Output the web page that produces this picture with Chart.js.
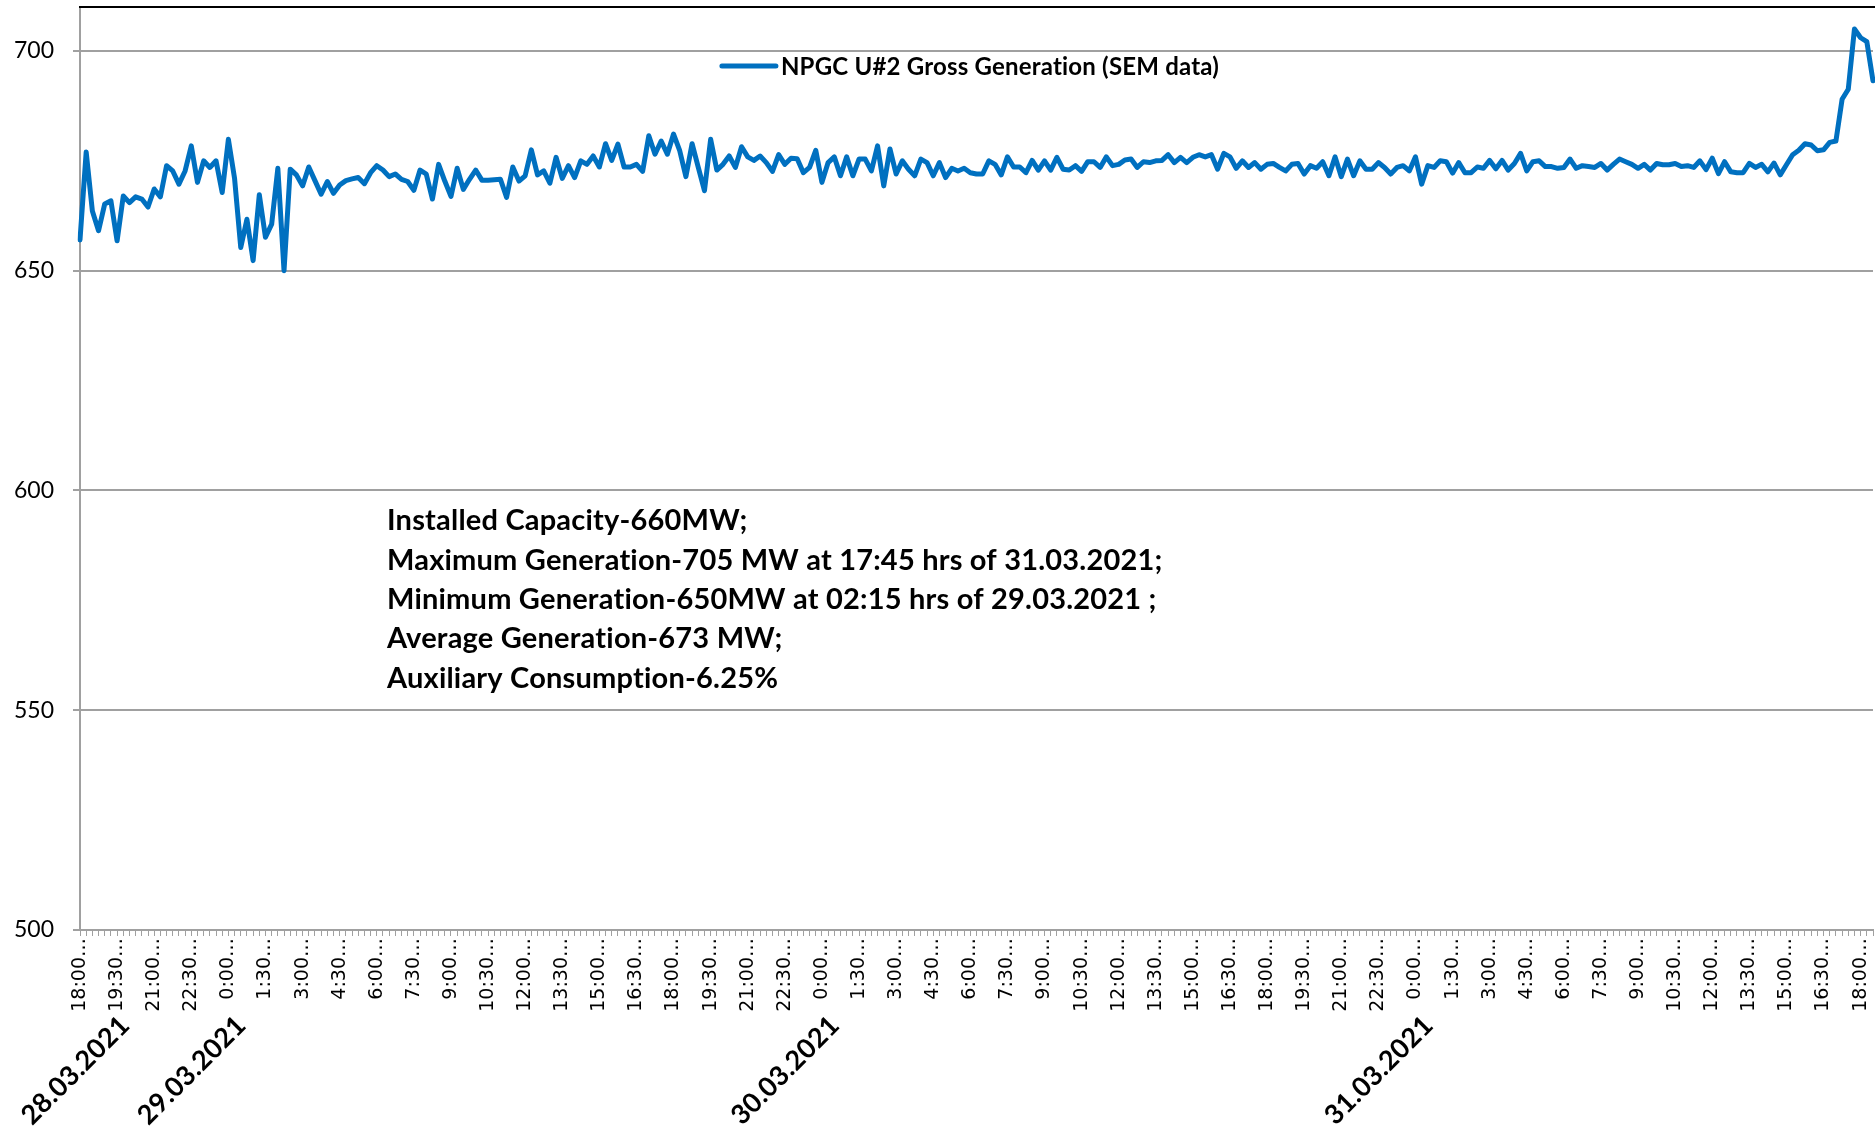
<!DOCTYPE html>
<html>
<head>
<meta charset="utf-8">
<script src="https://cdn.jsdelivr.net/npm/chart.js@4.4.0/dist/chart.umd.min.js"></script>
<style>
  html, body { margin: 0; padding: 0; background: #fff; }
  #wrap { width: 1875px; height: 1138px; position: relative; }
</style>
</head>
<body>
<div id="wrap"><canvas id="genChart"></canvas></div>
<script>
// 15-minute SEM readings, 18:00 28.03.2021 onwards (MW)
const grossMW = [
  657, 677, 663.6, 659.1, 665.2, 665.9, 656.8, 667.0, 665.5, 666.8, 666.3, 664.5, 668.6, 666.8, 673.9, 672.7,
  669.7, 672.7, 678.4, 670.1, 675.0, 673.5, 675.0, 667.8, 679.9, 671.0, 655.3, 661.7, 652.3, 667.3, 657.6, 660.6,
  673.3, 650.0, 673.1, 671.8, 669.3, 673.6, 670.5, 667.4, 670.3, 667.6, 669.5, 670.5, 670.9, 671.2, 669.8, 672.3,
  673.9, 672.9, 671.4, 672.0, 670.8, 670.3, 668.3, 672.9, 672.0, 666.3,
  674.2, 670.4, 666.9, 673.3, 668.5, 670.8, 672.9, 670.6, 670.6, 670.7, 670.8, 666.7, 673.6, 670.4, 671.6, 677.5,
  671.8, 672.7, 669.9, 675.8, 671.0, 673.9, 671.2, 675.0, 674.2, 676.1, 673.6, 678.9, 675.1, 678.8, 673.6, 673.6,
  674.2, 672.6, 680.7, 676.5, 679.5, 676.5, 681.1, 677.3, 671.4, 678.9, 673.5, 668.2, 679.9, 672.9, 674.2, 676.1,
  673.5, 678.2, 675.9, 675.1, 676.1, 674.6, 672.6, 676.4, 674.2, 675.6,
  675.5, 672.3, 673.5, 677.4, 670.1, 674.6, 675.9, 671.6, 675.9, 671.6, 675.4, 675.4, 672.7, 678.4, 669.3, 677.7,
  672.0, 675.0, 673.1, 671.6, 675.4, 674.6, 671.6, 674.6, 671.2, 673.3, 672.7, 673.3, 672.3, 672.0, 672.0, 675.0,
  674.2, 671.8, 675.9, 673.6, 673.6, 672.3, 675.1, 672.9, 675.0, 672.9, 675.8, 673.1, 672.9, 673.9, 672.6, 674.8,
  674.8, 673.5, 675.9, 673.9, 674.2, 675.2, 675.4, 673.5, 674.8, 674.6,
  675.0, 675.1, 676.4, 674.6, 675.8, 674.6, 675.8, 676.4, 675.9, 676.4, 673.1, 676.7, 675.9, 673.3, 675.0, 673.5,
  674.6, 673.1, 674.2, 674.4, 673.5, 672.7, 674.2, 674.4, 672.0, 673.9, 673.3, 674.8, 671.6, 675.9, 671.4, 675.4,
  671.6, 675.0, 673.1, 673.1, 674.6, 673.5, 672.0, 673.5, 673.9, 672.7, 675.9, 669.7, 673.9, 673.5, 675.0, 674.8,
  672.2, 674.6, 672.3, 672.3, 673.6, 673.3, 675.1, 673.2, 675.1, 672.9, 674.4,
  676.7, 672.7, 674.8, 675.0, 673.7, 673.7, 673.3, 673.5, 675.4, 673.3, 673.9, 673.7, 673.5, 674.4, 672.9, 674.2,
  675.4, 674.8, 674.2, 673.3, 674.2, 672.9, 674.4, 674.1, 674.1, 674.4, 673.7, 673.9, 673.5, 675.0, 673.0, 675.6,
  672.1, 674.8, 672.5, 672.3, 672.3, 674.4, 673.5, 674.2, 672.5, 674.5, 671.8, 674.1, 676.4, 677.4, 678.9, 678.6,
  677.3, 677.5, 679.2, 679.5, 689.0, 691.3, 705.0, 703.0, 702.1, 693.2
]

// labels shown every 6th slot (1.5 h)
const tickLabels = [
  '18:00', '19:30', '21:00', '22:30', '0:00', '1:30', '3:00', '4:30', '6:00', '7:30', '9:00', '10:30', '12:00', '13:30', '15:00', '16:30',
  '18:00', '19:30', '21:00', '22:30', '0:00', '1:30', '3:00', '4:30', '6:00', '7:30', '9:00', '10:30', '12:00', '13:30', '15:00', '16:30',
  '18:00', '19:30', '21:00', '22:30', '0:00', '1:30', '3:00', '4:30', '6:00', '7:30', '9:00', '10:30', '12:00', '13:30', '15:00', '16:30',
  '18:00'
]

const dateLabels = ['28.03.2021', '29.03.2021', '30.03.2021', '31.03.2021']
const dateStartIdx = [0, 24, 120, 216]

const notes = [
  'Installed Capacity-660MW;',
  'Maximum Generation-705 MW at 17:45 hrs of 31.03.2021;',
  'Minimum Generation-650MW at 02:15 hrs of 29.03.2021 ;',
  'Average Generation-673 MW;',
  'Auxiliary Consumption-6.25%'
]

const categories = grossMW.map((v, i) => {
  const m = (18 * 60 + 15 * i) % 1440
  return Math.floor(m / 60) + ':' + String(m % 60).padStart(2, '0')
})

const LINE_BLUE = '#0070C0'
const GRID = '#a0a0a0'

const extrasPlugin = {
  id: 'extras',
  afterDraw(chart) {
    const { ctx, chartArea: a } = chart
    const xs = chart.scales.x
    ctx.save()
    ctx.letterSpacing = '0.2px' // stops Lato's "ti" ligature

    // plot top border
    ctx.strokeStyle = '#000'
    ctx.lineWidth = 2
    ctx.beginPath()
    ctx.moveTo(a.left - 1, a.top)
    ctx.lineTo(chart.width, a.top)
    ctx.stroke()

    // legend inside plot
    const ds = chart.data.datasets[0]
    ctx.font = 'bold 24px Lato'
    const tw = ctx.measureText(ds.label).width
    const lineLen = 54, gap = 5
    const total = lineLen + gap + tw
    const lx = (a.left + a.right) / 2 - total / 2 - 6
    const ly = a.top + 59
    ctx.strokeStyle = ds.borderColor
    ctx.lineWidth = 5
    ctx.lineCap = 'round'
    ctx.beginPath()
    ctx.moveTo(lx, ly)
    ctx.lineTo(lx + lineLen, ly)
    ctx.stroke()
    ctx.fillStyle = '#000'
    ctx.textBaseline = 'middle'
    ctx.textAlign = 'left'
    ctx.fillText(ds.label, lx + lineLen + gap, ly + 1)

    // notes block
    ctx.font = 'bold 29px Lato'
    notes.forEach((t, i) => {
      ctx.fillText(t, a.left + 307, a.top + 514 + i * 39.3)
    })

    // date group labels
    ctx.font = 'bold 27px Lato'
    ctx.textAlign = 'right'
    dateLabels.forEach((d, k) => {
      const w = ctx.measureText(d).width
      let x = xs.getPixelForValue(dateStartIdx[k]) + 13
      x = Math.max(x, w * 0.7071 + 26)
      ctx.save()
      ctx.translate(x, 1021)
      ctx.rotate(-Math.PI / 4)
      ctx.fillText(d, 0, 0)
      ctx.restore()
    })
    ctx.restore()
  }
}

new Chart(document.getElementById('genChart'), {
  type: 'line',
  data: {
    labels: categories,
    datasets: [{
      label: 'NPGC U#2 Gross Generation (SEM data)',
      data: grossMW,
      borderColor: LINE_BLUE,
      backgroundColor: LINE_BLUE,
      borderWidth: 5,
      borderJoinStyle: 'round',
      borderCapStyle: 'round',
      pointRadius: 0,
      tension: 0
    }]
  },
  options: {
    responsive: true,
    maintainAspectRatio: false,
    animation: false,
    layout: { padding: { top: 7, right: 2, left: 0, bottom: 0 } },
    plugins: {
      legend: { display: false },
      tooltip: { enabled: false }
    },
    scales: {
      x: {
        type: 'category',
        offset: false,
        afterFit: (s) => {
          s.height = 208
          s.paddingLeft = 0
          s.paddingRight = 0
        },
        grid: { drawOnChartArea: false, drawTicks: true, tickLength: 6, color: GRID, lineWidth: 1 },
        border: { color: GRID, width: 2 },
        ticks: {
          autoSkip: false,
          minRotation: 90,
          maxRotation: 90,
          padding: 2,
          color: '#000',
          font: { family: 'DejaVu Sans', size: 19 },
          callback: (v, i) => (i % 6 === 0 && tickLabels[i / 6]) ? tickLabels[i / 6] + '\u2026' : ''
        }
      },
      y: {
        min: 500,
        max: 710,
        afterFit: (s) => {
          s.width = 80
          s.paddingTop = 0
          s.paddingBottom = 0
        },
        grid: { color: GRID, lineWidth: 2, tickLength: 7 },
        border: { color: GRID, width: 2 },
        ticks: {
          stepSize: 50,
          includeBounds: false,
          padding: 19,
          color: '#000',
          font: { family: 'Lato', size: 23 }
        }
      }
    }
  },
  plugins: [extrasPlugin]
})
</script>
</body>
</html>
